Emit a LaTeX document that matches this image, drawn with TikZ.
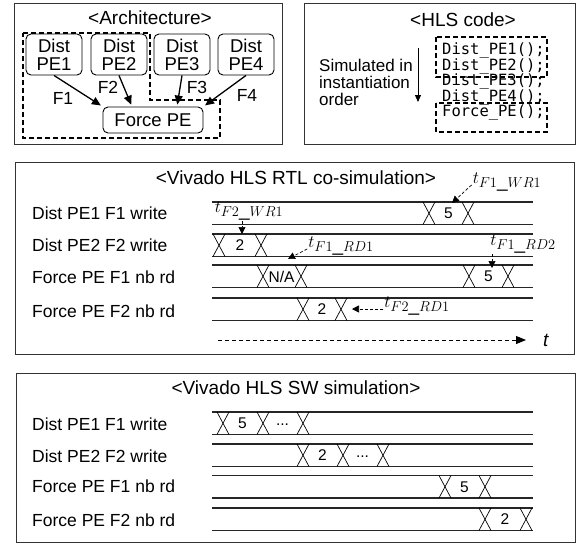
\documentclass[tikz,border=0pt]{standalone}
\usepackage{fontspec}
\setmainfont{Liberation Sans}
\setmonofont{DejaVu Sans Mono}
\usetikzlibrary{arrows.meta}

\tikzset{
  panel/.style={draw=black!80, line width=0.9pt},
  pebox/.style={draw, rounded corners=5pt, line width=0.9pt, minimum width=56pt,
    minimum height=41pt, align=center, inner sep=1pt, font=\fontsize{18.5}{18}\selectfont},
  grupo/.style={line width=1.4pt, dash pattern=on 5pt off 3pt},
  flecha/.style={-{Triangle[length=9pt,width=8pt]}, line width=1.3pt, shorten >=2pt},
  onda/.style={draw=black!85, line width=1.1pt},
  cruce/.style={line width=0.7pt},
  marca/.style={dash pattern=on 3pt off 2pt, line width=0.7pt, -{Triangle[length=7pt,width=7pt]}},
  etiq/.style={font=\fontsize{17.5}{20}\selectfont, inner sep=0pt},
  titulo/.style={font=\fontsize{19}{20}\selectfont, inner sep=0pt},
  valor/.style={font=\fontsize{15.5}{18}\selectfont, inner sep=0pt},
  tiempo/.style={font=\fontsize{19}{20}\selectfont, inner sep=1pt},
}

% cruce de transicion: x, borde superior, alto
\newcommand{\cruz}[3]{\draw[cruce] (#1,#2) -- ++(12,#3) (#1,#2+#3) -- ++(12,-#3);}

\begin{document}
\begin{tikzpicture}[x=1pt,y=-1pt]
    \useasboundingbox (0,0) rectangle (579,544);

    % Paneles
    \draw[panel] (14,3) rectangle (282,144);
    \draw[panel] (304,3) rectangle (575,144);
    \draw[panel] (15,162) rectangle (574,354);
    \draw[panel] (16,373) rectangle (575,542);

    % <Architecture>
    \node[titulo] (arqtit) at (150,18) {<Architecture>};
    \node[pebox] (pe1) at (54,54.5) {Dist\\PE1};
    \node[pebox] (pe2) at (119,54.5) {Dist\\PE2};
    \node[pebox] (pe3) at (182,54.5) {Dist\\PE3};
    \node[pebox] (pe4) at (246,54.5) {Dist\\PE4};
    \node[pebox, minimum width=100pt, minimum height=26pt] (force) at (153,120) {Force PE};
    \draw[grupo] (23,33) -- (150,33) -- (150,100) -- (220,100) -- (220,138) -- (23,138) -- cycle;
    \draw[flecha] (pe1.south) -- (force.north west);
    \draw[flecha] (pe2.south) -- ([xshift=-21pt]force.north);
    \draw[flecha] (pe3.south) -- ([xshift=24pt]force.north);
    \draw[flecha] (pe4.south) -- (force.north east);
    \node[etiq] (f1) at (63,98) {F1};
    \node[etiq] (f2) at (108,87) {F2};
    \node[etiq] (f3) at (197,87) {F3};
    \node[etiq] (f4) at (247,95) {F4};

    % <HLS code>
    \node[titulo] (hlstit) at (463,20) {<HLS code>};
    \node[etiq, anchor=west, align=left, font=\fontsize{17}{17}\selectfont] (orden) at (319,82)
      {Simulated in\\instantiation\\order};
    \coordinate (oa) at (418,48);
    \coordinate (ob) at (418,102);
    \draw[line width=0.9pt, -{Triangle[length=7pt,width=6pt]}] (oa) -- (ob);
    \foreach \i/\y/\txt in {1/50/Dist\_PE1();, 2/66/Dist\_PE2();, 3/81.5/Dist\_PE3();,
                            4/97/Dist\_PE4();, 5/112.5/Force\_PE();}
      \node[inner sep=0pt, font=\ttfamily\fontsize{15.5}{16}\selectfont] (code\i) at (493.5,\y) {\txt};
    \draw[grupo, line width=1.2pt] (436,37) rectangle (547,77);
    \draw[grupo, line width=1.2pt] (436,103) rectangle (547,132);

    % <Vivado HLS RTL co-simulation>
    \node[titulo] (rtltit) at (296,178) {<Vivado HLS RTL co-simulation>};
    \foreach \i/\y/\txt in {1/213/Dist PE1 F1 write, 2/245/Dist PE2 F2 write,
                            3/277/Force PE F1 nb rd, 4/311/Force PE F2 nb rd}
      \node[etiq, anchor=west] (rtl\i) at (32,\y) {\txt};
    \foreach \y in {202,234,265,298}
      \draw[onda] (212,\y) -- (533,\y) (212,\y+22.5) -- (533,\y+22.5);
    \cruz{423}{202}{22.5} \cruz{462}{202}{22.5}
    \node[valor] (r1a) at (448.5,213.5) {5};
    \cruz{213}{234}{22.5} \cruz{255}{234}{22.5}
    \node[valor] (r2a) at (240,245.5) {2};
    \cruz{257}{265}{22.5} \cruz{295}{265}{22.5}
    \node[valor] (r3a) at (281.5,276.5) {N/A};
    \cruz{463}{265}{22.5} \cruz{502}{265}{22.5}
    \node[valor] (r3b) at (488.5,276.5) {5};
    \cruz{297}{298}{22.5} \cruz{335}{298}{22.5}
    \node[valor] (r4a) at (322,309.5) {2};

    % Marcas de tiempo
    \node[tiempo] (tw2) at (249,211) {$t_{F2\_WR1}$};
    \coordinate (pw2) at (242,234);
    \draw[marca] (tw2.south -| pw2) -- (pw2);
    \node[tiempo] (tr1) at (341,246) {$t_{F1\_RD1}$};
    \coordinate (pr1) at (288,259);
    \draw[marca] ([yshift=-3pt]tr1.west) -- (pr1);
    \node[tiempo] (tw1) at (507,182) {$t_{F1\_WR1}$};
    \coordinate (pw1) at (452,203);
    \draw[marca] ([yshift=-3pt]tw1.west) -- (pw1);
    \node[tiempo] (tr2) at (523,244) {$t_{F1\_RD2}$};
    \coordinate (pr2) at (492,268);
    \draw[marca] (tr2.south west -| pr2) -- (pr2);
    \node[tiempo] (tr3) at (417,306) {$t_{F2\_RD1}$};
    \coordinate (pr3) at (352,309);
    \draw[marca] (tr3.west |- pr3) -- (pr3);

    % Eje de tiempo
    \coordinate (t0) at (218,340);
    \coordinate (t1) at (526,340);
    \draw[line width=0.9pt, dash pattern=on 4pt off 3pt, -{Triangle[length=10pt,width=8pt]}] (t0) -- (t1);
    \node[titulo] (tlab) at (546,340) {\textit{t}};

    % <Vivado HLS SW simulation>
    \node[titulo] (swtit) at (296,388) {<Vivado HLS SW simulation>};
    \foreach \i/\y/\txt in {1/424/Dist PE1 F1 write, 2/456/Dist PE2 F2 write,
                            3/486/Force PE F1 nb rd, 4/520/Force PE F2 nb rd}
      \node[etiq, anchor=west] (sw\i) at (32,\y) {\txt};
    \foreach \y in {412,444,475.5,508}
      \draw[onda] (212,\y) -- (533,\y) (212,\y+22.5) -- (533,\y+22.5);
    \cruz{217}{412}{22.5} \cruz{257}{412}{22.5} \cruz{297}{412}{22.5}
    \node[valor] (s1a) at (242.5,423.5) {5};
    \node[valor] (s1b) at (282.5,425) {...};
    \cruz{297}{444}{22.5} \cruz{337}{444}{22.5} \cruz{377}{444}{22.5}
    \node[valor] (s2a) at (322.5,455.5) {2};
    \node[valor] (s2b) at (362.5,457) {...};
    \cruz{439}{475.5}{22.5} \cruz{479}{475.5}{22.5}
    \node[valor] (s3a) at (464.5,487) {5};
    \cruz{479}{508}{22.5} \cruz{520}{508}{22.5}
    \node[valor] (s4a) at (505,519.5) {2};
\end{tikzpicture}
\end{document}
